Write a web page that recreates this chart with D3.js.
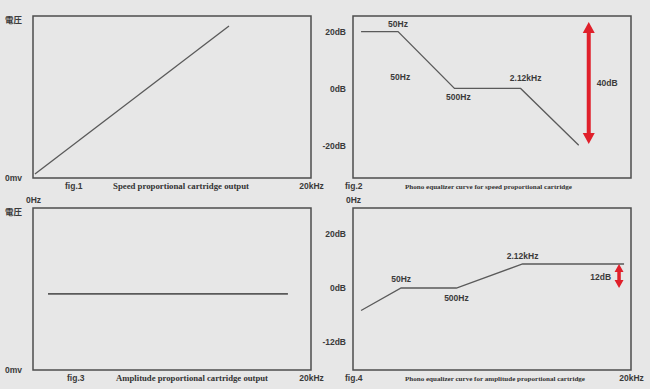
<!DOCTYPE html>
<html lang="ja">
<head>
<meta charset="UTF-8">
<title>Cartridge output and phono equalizer curves</title>
<style>
  body{margin:0;background:#e7e7e7;}
  svg{display:block;font-family:"Liberation Sans","Noto Sans CJK JP",Arial,sans-serif;}
  .lbl{font-size:8.5px;font-weight:bold;fill:#3a3a3a;}
  .fig{font-size:8.5px;font-weight:bold;fill:#3a3a3a;}
  .cap{font-family:"Liberation Serif","DejaVu Serif",serif;font-weight:bold;fill:#333;}
  .box{fill:none;stroke:#4d4d4d;stroke-width:1.5;}
  .curve{fill:none;stroke:#5a5a5a;stroke-width:1.3;}
  .axis path,.axis line{display:none;}
  .axis text{font-size:8.5px;font-weight:bold;fill:#3a3a3a;font-family:"Liberation Sans","Noto Sans CJK JP",Arial,sans-serif;}
  .arrow{fill:#e0202b;}
</style>
</head>
<body>
<div id="chart"></div>
<script src="https://d3js.org/d3.v7.min.js"></script>
<script>
// x is a schematic sweep position: 0 = 0Hz, 100 = 20kHz
const fig1Sweep = [0.7, 70.5];
const fig1Volt = [2.5, 93.8];
const fig3Sweep = [5.4, 91.7];
const fig3Volt = [47, 47];

const fig2Sweep = [2.9, 16.2, 36.5, 60.3, 81.2];
const fig2Gain = [20, 20, 0, 0, -20];
const fig4Sweep = [2.9, 17.3, 37.2, 61.0, 97.5];
const fig4Gain = [-5, 0, 0, 12, 12];

const voltTicks = [0, 97.5];
const voltLabels = ["0mv", "電圧"];
const fig2Ticks = [20, 0, -20];
const fig4Ticks = [20, 0, -12];

const fig2Notes = [
  {text: "50Hz", x: 16.2, db: 22.7},
  {text: "50Hz", x: 17.0, db: 4.0},
  {text: "500Hz", x: 37.9, db: -3.0},
  {text: "2.12kHz", x: 62.1, db: 3.7}
];
const fig4Notes = [
  {text: "50Hz", x: 17.3, db: 4.5},
  {text: "500Hz", x: 37.2, db: -2.2},
  {text: "2.12kHz", x: 61.0, db: 14.1}
];
// red double arrows: sweep position, dB span, label
const fig2Span = {x: 84.8, from: -19.5, to: 23.4, text: "40dB"};
const fig4Span = {x: 95.7, from: 0, to: 12, text: "12dB"};

const figNames = ["fig.1", "fig.2", "fig.3", "fig.4"];
const figTitles = [
  "Speed proportional cartridge output",
  "Phono equalizer curve for speed proportional cartridge",
  "Amplitude proportional cartridge output",
  "Phono equalizer curve for amplitude proportional cartridge"
];

const W = 650, H = 389;
const bw = 278, bh = 162;

const svg = d3.select("#chart").append("svg")
  .attr("width", W).attr("height", H);

// panel layout
const panels = [
  {x: 33, y: 16, figDx: 32, capDx: 80, capSize: 7.5, capLen: 136},
  {x: 353, y: 16, figDx: -8, capDx: 52, capSize: 6, capLen: 167},
  {x: 33, y: 208, figDx: 34, capDx: 83, capSize: 7.5, capLen: 152},
  {x: 353, y: 208, figDx: -8, capDx: 52, capSize: 6, capLen: 180}
];

panels.forEach((p, i) => {
  p.g = svg.append("g").attr("transform", `translate(${p.x},${p.y})`);
  p.xs = d3.scaleLinear().domain([0, 100]).range([0, bw]);
  p.g.append("rect").attr("class", "box")
    .attr("width", bw).attr("height", bh);
  p.g.append("text").attr("class", "fig")
    .attr("x", p.figDx).attr("y", bh + 8).attr("dy", "0.35em")
    .text(figNames[i]);
  p.g.append("text").attr("class", "cap")
    .attr("x", p.capDx).attr("y", bh + 8.5).attr("dy", "0.35em")
    .style("font-size", p.capSize + "px")
    .attr("textLength", p.capLen).attr("lengthAdjust", "spacingAndGlyphs")
    .text(figTitles[i]);
});

// 20kHz at the right end (not on fig.2), 0Hz under the top panels
[0, 2, 3].forEach(i => {
  const p = panels[i];
  p.g.append("g").attr("class", "axis")
    .attr("transform", `translate(0,${bh + 1})`)
    .call(d3.axisBottom(p.xs).tickValues([100]).tickSize(0).tickPadding(4)
      .tickFormat(() => "20kHz"));
});
[0, 1].forEach(i => {
  const p = panels[i];
  p.g.append("g").attr("class", "axis")
    .attr("transform", `translate(0,${bh + 15})`)
    .call(d3.axisBottom(p.xs).tickValues([0]).tickSize(0).tickPadding(4)
      .tickFormat(() => "0Hz"));
});

// voltage panels
const vs = d3.scaleLinear().domain([0, 100]).range([bh, 0]);
[[0, fig1Sweep, fig1Volt, 1.3], [2, fig3Sweep, fig3Volt, 1.8]].forEach(([i, xs, ys, sw]) => {
  const p = panels[i];
  p.g.append("g").attr("class", "axis")
    .call(d3.axisLeft(vs).tickValues(voltTicks).tickSize(0).tickPadding(11)
      .tickFormat((d, k) => voltLabels[k]));
  const line = d3.line().x(d => p.xs(d[0])).y(d => vs(d[1]));
  p.g.append("path").attr("class", "curve")
    .style("stroke-width", sw)
    .attr("d", line(d3.zip(xs, ys)));
});

// equalizer panels
const ys2 = d3.scaleLinear().domain([25.5, -31.5]).range([0, bh]);
// fig.4 is drawn with uneven dB spacing
const ys4 = d3.scaleLinear().domain([20, 12, 0, -12]).range([26, 56, 80, 134]);

function dblArrow(g, x, y1, y2, headW, headL, shaft) {
  const pts = [
    [x, y1], [x + headW / 2, y1 + headL], [x + shaft / 2, y1 + headL],
    [x + shaft / 2, y2 - headL], [x + headW / 2, y2 - headL], [x, y2],
    [x - headW / 2, y2 - headL], [x - shaft / 2, y2 - headL],
    [x - shaft / 2, y1 + headL], [x - headW / 2, y1 + headL]
  ];
  g.append("polygon").attr("class", "arrow").attr("points", pts.join(" "));
}

[[1, fig2Sweep, fig2Gain, fig2Ticks, ys2, fig2Notes, fig2Span, 12, 11, 4, "start"],
 [3, fig4Sweep, fig4Gain, fig4Ticks, ys4, fig4Notes, fig4Span, 9, 8, 3.5, "end"]]
  .forEach(([i, xs, gains, ticks, ys, notes, span, hw, hl, sh, anchor]) => {
    const p = panels[i];
    p.g.append("g").attr("class", "axis")
      .call(d3.axisLeft(ys).tickValues(ticks).tickSize(0).tickPadding(7)
        .tickFormat(d => d + "dB"));
    const line = d3.line().x(d => p.xs(d[0])).y(d => ys(d[1]));
    p.g.append("path").attr("class", "curve")
      .attr("d", line(d3.zip(xs, gains)));
    p.g.selectAll(".note").data(notes).join("text")
      .attr("class", "lbl note")
      .attr("x", d => p.xs(d.x)).attr("y", d => ys(d.db)).attr("dy", "0.35em")
      .attr("text-anchor", "middle")
      .text(d => d.text);
    const ax = p.xs(span.x);
    dblArrow(p.g, ax, ys(span.to), ys(span.from), hw, hl, sh);
    p.g.append("text").attr("class", "lbl")
      .attr("x", anchor === "start" ? ax + 8 : ax - 8)
      .attr("y", (ys(span.to) + ys(span.from)) / 2 + (anchor === "start" ? 0 : 1))
      .attr("dy", "0.35em").attr("text-anchor", anchor)
      .text(span.text);
  });
</script>
</body>
</html>
